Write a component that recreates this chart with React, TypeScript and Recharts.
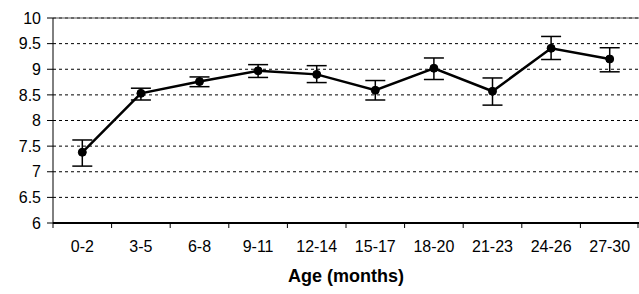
import React from 'react';
import { ComposedChart, Line, XAxis, YAxis, CartesianGrid, ErrorBar, ReferenceLine } from 'recharts';

const ageGroups = ['0-2', '3-5', '6-8', '9-11', '12-14', '15-17', '18-20', '21-23', '24-26', '27-30'];
const means = [7.38, 8.53, 8.76, 8.97, 8.9, 8.59, 9.02, 8.57, 9.41, 9.2];
const errLow = [0.27, 0.13, 0.1, 0.13, 0.16, 0.19, 0.22, 0.27, 0.22, 0.25];
const errHigh = [0.24, 0.1, 0.09, 0.12, 0.17, 0.19, 0.2, 0.26, 0.23, 0.22];
const yTicks = [6, 6.5, 7, 7.5, 8, 8.5, 9, 9.5, 10];

const data = ageGroups.map((g, i) => ({ age: g, mean: means[i], err: [errLow[i], errHigh[i]] }));

const FONT = '"Liberation Sans", Arial, sans-serif';
const CHART_W = 639;
const Y_AXIS_W = 53;
const BAND = (CHART_W - Y_AXIS_W) / ageGroups.length;

const XTick = (props: any) => {
  const { x, y, payload, index } = props;
  const isLast = index === ageGroups.length - 1;
  return (
    <g>
      <line x1={x - BAND / 2} x2={x - BAND / 2} y1={y} y2={y + 5} stroke="#000" strokeWidth={1} />
      {isLast && (
        <line x1={x + BAND / 2 - 1} x2={x + BAND / 2 - 1} y1={y} y2={y + 5} stroke="#000" strokeWidth={1} />
      )}
      <text x={x} y={y + 25} textAnchor="middle" dominantBaseline="middle" fontSize={16} fontFamily={FONT} fill="#000">
        {payload.value}
      </text>
    </g>
  );
};

export default function App() {
  return (
    <div style={{ position: 'absolute', left: 0, top: 0, width: CHART_W, height: 294, background: '#fff' }}>
      <ComposedChart width={CHART_W} height={294} data={data} margin={{ top: 18, right: 0, bottom: 0, left: 0 }}>
        <CartesianGrid vertical={false} stroke="#000" strokeDasharray="3 3" strokeWidth={1} />
        <ReferenceLine y={10} stroke="#555" strokeWidth={1} />
        <XAxis
          dataKey="age"
          scale="band"
          height={71}
          tickLine={false}
          tickSize={0}
          tickMargin={0}
          axisLine={{ stroke: '#000', strokeWidth: 2 }}
          tick={<XTick />}
          interval={0}
          label={{ value: 'Age (months)', position: 'insideBottom', offset: 12, fontSize: 18, fontWeight: 'bold', fontFamily: FONT, fill: '#000' }}
        />
        <YAxis
          type="number"
          domain={[6, 10]}
          ticks={yTicks}
          width={Y_AXIS_W}
          tickSize={6}
          tickMargin={6}
          tickLine={{ stroke: '#000' }}
          axisLine={{ stroke: '#000', strokeWidth: 1 }}
          tick={{ fontSize: 16, fontFamily: FONT, fill: '#000' }}
          interval={0}
        />
        <Line
          dataKey="mean"
          stroke="#000"
          strokeWidth={2.5}
          dot={{ r: 4, fill: '#000', stroke: '#000', strokeWidth: 1 }}
          isAnimationActive={false}
        >
          <ErrorBar dataKey="err" width={10} stroke="#000" strokeWidth={1.5} />
        </Line>
      </ComposedChart>
    </div>
  );
}
